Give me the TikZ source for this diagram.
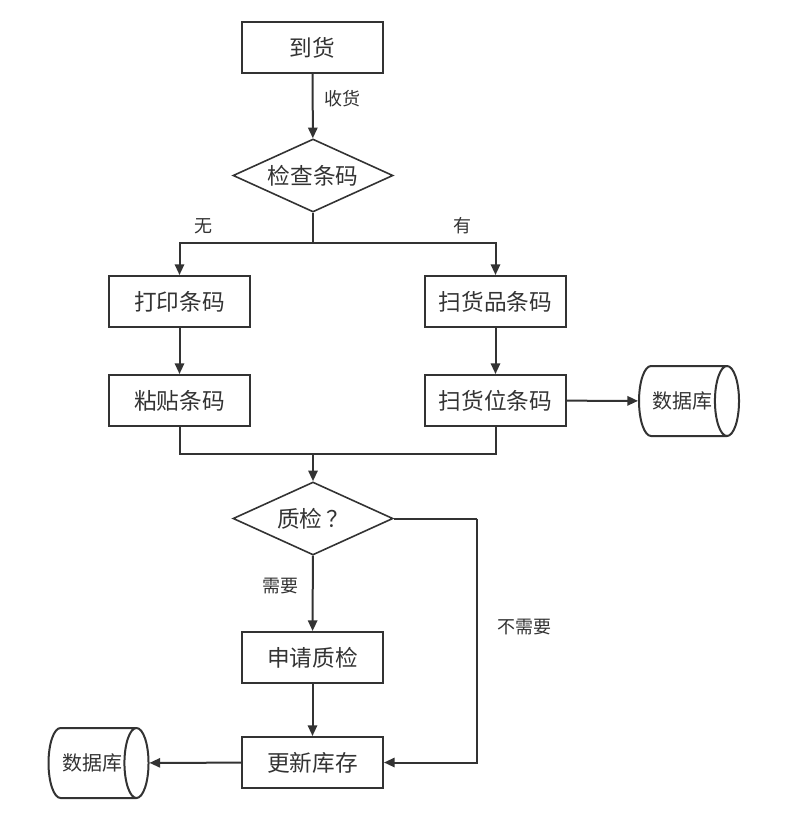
\documentclass[tikz,border=0pt]{standalone}
\usepackage{fontspec}
\setmainfont{Noto Sans CJK SC}
\usetikzlibrary{shapes.geometric,arrows.meta}
\definecolor{ln}{HTML}{333333}
\begin{document}
\begin{tikzpicture}[x=0.75pt,y=-0.75pt,
  every node/.style={text=ln},
  proc/.style={draw=ln,line width=1.5pt,rectangle,minimum width=105.75pt,minimum height=38.25pt,inner sep=0pt,font=\fontsize{17}{19}\selectfont},
  dec/.style={draw=ln,line width=1.2pt,diamond,aspect=2.2,minimum width=120pt,minimum height=54.75pt,inner sep=0pt,font=\fontsize{17}{19}\selectfont},
  db/.style={draw=ln,line width=1.5pt,cylinder,aspect=1.3,minimum height=75pt,minimum width=52.5pt,inner sep=0pt,font=\fontsize{15}{17}\selectfont},
  lbl/.style={font=\fontsize{13.5}{15}\selectfont,inner sep=0pt},
  conn/.style={draw=ln,line width=1.5pt},
  arr/.style={conn,-{Triangle[length=8pt,width=7pt]}}]
\useasboundingbox (0,0) rectangle (803,828);
\node[proc] (arrive) at (312.5,47.5) {到货};
\node[dec] (check) at (313,175.5) {检查条码};
\node[proc] (print) at (179.5,301.5) {打印条码};
\node[proc] (scanitem) at (495.5,301.5) {扫货品条码};
\node[proc] (paste) at (179.5,400.5) {粘贴条码};
\node[proc] (scanloc) at (495.5,400.5) {扫货位条码};
\node[db] (db1) at (682.5,401) {数据库};
\node[dec] (qc) at (313,518.5) {质检\hspace{3pt}？};
\node[proc] (apply) at (312.5,657.5) {申请质检};
\node[proc] (update) at (312.5,762.5) {更新库存};
\node[db] (db2) at (92,763) {数据库};
\coordinate (split) at (313,243);
\coordinate (merge) at (313,454);
\coordinate (bypass) at (477,518.5);
\node[lbl] (l1) at (342,99) {收货};
\node[lbl] (l2) at (203,226) {无};
\node[lbl] (l3) at (462,226) {有};
\node[lbl] (l4) at (280,586) {需要};
\node[lbl] (l5) at (524,627) {不需要};
\draw[arr] (arrive) -- (check);
\draw[conn] (check.south) -- (split);
\draw[arr] (split) -| (print.north);
\draw[arr] (split) -| (scanitem.north);
\draw[arr] (print) -- (paste);
\draw[arr] (scanitem) -- (scanloc);
\draw[arr] (scanloc) -- (db1);
\draw[conn] (paste.south) |- (merge);
\draw[conn] (scanloc.south) |- (merge);
\draw[arr] (merge) -- (qc.north);
\draw[arr] (qc) -- (apply);
\draw[arr] (apply) -- (update);
\draw[conn] (qc.east) -- (bypass);
\draw[arr] (bypass) |- (update.east);
\draw[arr] (update) -- (db2);
\end{tikzpicture}
\end{document}
